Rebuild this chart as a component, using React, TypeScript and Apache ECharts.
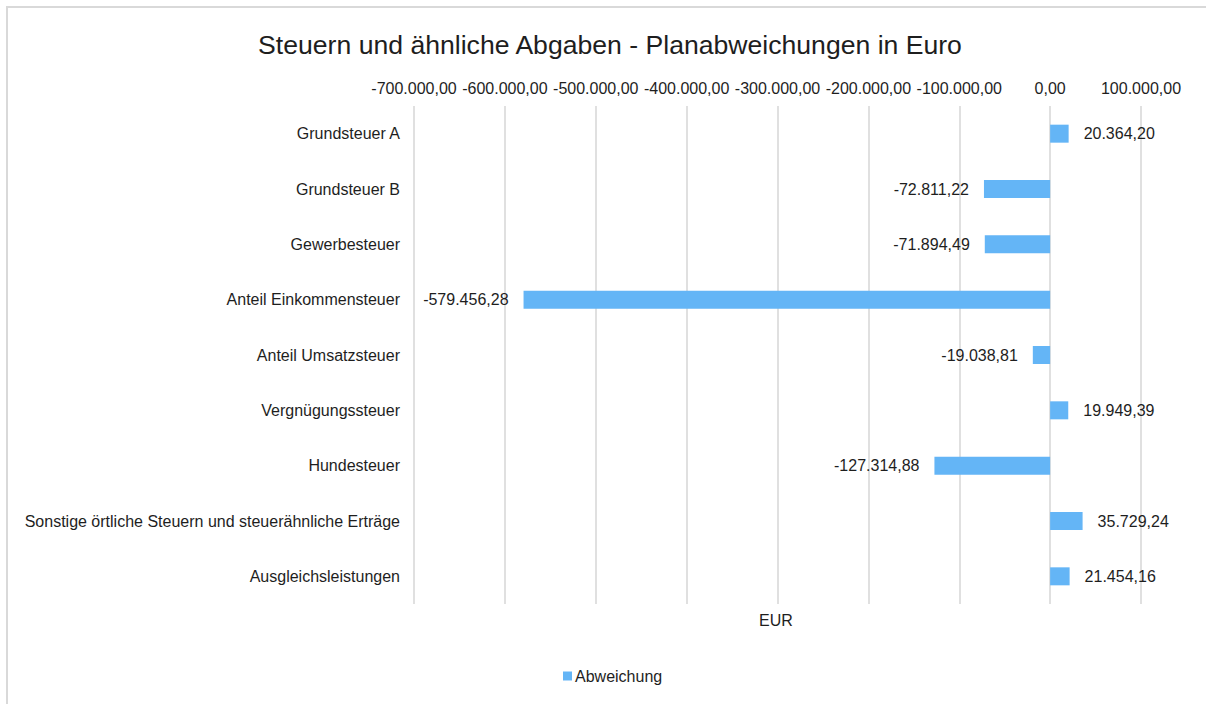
import React, { useEffect, useRef } from "react";
import * as echarts from "echarts";

const categories = [
  "Grundsteuer A",
  "Grundsteuer B",
  "Gewerbesteuer",
  "Anteil Einkommensteuer",
  "Anteil Umsatzsteuer",
  "Vergnügungssteuer",
  "Hundesteuer",
  "Sonstige örtliche Steuern und steuerähnliche Erträge",
  "Ausgleichsleistungen",
];
const values = [20364.2, -72811.22, -71894.49, -579456.28, -19038.81, 19949.39, -127314.88, 35729.24, 21454.16];
const xMin = -700000;
const xMax = 100000;
const xStep = 100000;
const seriesName = "Abweichung";
const titleText = "Steuern und ähnliche Abgaben - Planabweichungen in Euro";
const axisUnit = "EUR";

function fmtDE(v: number): string {
  const neg = v < 0;
  const abs = Math.abs(v);
  const fixed = abs.toFixed(2);
  const [intPart, dec] = fixed.split(".");
  const withSep = intPart.replace(/\B(?=(\d{3})+(?!\d))/g, ".");
  return (neg ? "-" : "") + withSep + "," + dec;
}

const FONT = "'Liberation Sans', Arial, sans-serif";
const TEXT = "#1e1e1e";

export default function App() {
  const ref = useRef<HTMLDivElement>(null);
  useEffect(() => {
    if (!ref.current) return;
    const chart = echarts.init(ref.current, null, { renderer: "svg" });
    chart.setOption({
      animation: false,
      textStyle: { fontFamily: FONT },
      title: {
        text: titleText,
        left: 605,
        top: 26,
        textAlign: "center",
        textStyle: { fontSize: 26.6, fontWeight: "normal", color: TEXT, fontFamily: FONT },
      },
      legend: {
        data: [seriesName],
        bottom: 15,
        left: 558,
        icon: "rect",
        itemWidth: 9,
        itemHeight: 9,
        itemGap: 4,
        textStyle: { fontSize: 16, color: TEXT, fontFamily: FONT, padding: [0, 0, 0, -2] },
      },
      grid: { left: 414, right: 65, top: 106, bottom: 100, containLabel: false },
      xAxis: {
        type: "value",
        position: "top",
        min: xMin,
        max: xMax,
        interval: xStep,
        axisLine: { show: false },
        axisTick: { show: false },
        splitLine: { show: true, lineStyle: { color: "#d9d9d9", width: 1.6 } },
        axisLabel: { fontSize: 16, color: TEXT, margin: 10, fontFamily: FONT, formatter: (v: number) => fmtDE(v) },
      },
      yAxis: {
        type: "category",
        inverse: true,
        data: categories,
        axisLine: { show: false },
        axisTick: { show: false },
        axisLabel: { fontSize: 16, color: TEXT, margin: 14, fontFamily: FONT },
      },
      graphic: [
        {
          type: "text",
          left: 777 - 18,
          top: 612,
          style: { text: axisUnit, fontSize: 16, fill: TEXT, fontFamily: FONT },
        },
      ],
      series: [
        {
          name: seriesName,
          type: "bar",
          barWidth: 18,
          itemStyle: { color: "#64b5f6" },
          data: values.map((v) => ({
            value: v,
            label: {
              show: true,
              position: v < 0 ? "left" : "right",
              distance: 15,
              fontSize: 16,
              color: TEXT,
              fontFamily: FONT,
              formatter: (p: any) => fmtDE(p.value),
            },
          })),
        },
      ],
    });
    return () => chart.dispose();
  }, []);
  return (
    <>
      <div
        style={{
          position: "absolute",
          left: 6,
          top: 6,
          width: 1200,
          height: 698,
          boxSizing: "border-box",
          borderLeft: "2px solid #d9d9d9",
          borderTop: "2px solid #d9d9d9",
        }}
      />
      <div ref={ref} style={{ position: "absolute", left: 0, top: 0, width: 1206, height: 704 }} />
    </>
  );
}
